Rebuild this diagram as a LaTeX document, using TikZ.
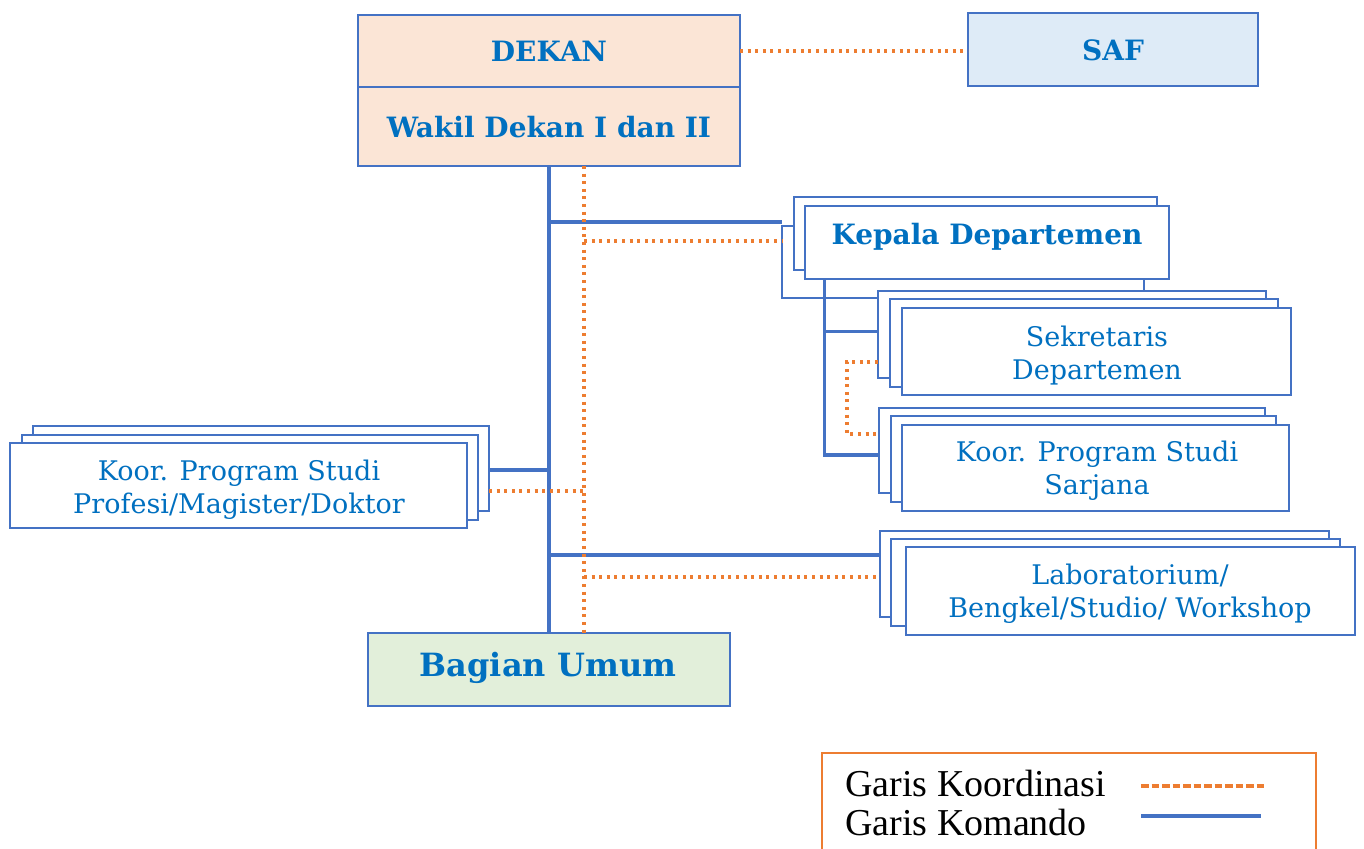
\documentclass[tikz,border=0pt]{standalone}
\usepackage{fontspec}
\setmainfont{DejaVu Serif}
\newfontfamily\legfont{Liberation Serif}
\definecolor{bl}{HTML}{4472C4}
\definecolor{tx}{HTML}{0070C0}
\definecolor{og}{HTML}{ED7D31}
\definecolor{peach}{HTML}{FBE5D6}
\definecolor{skyb}{HTML}{DEEBF7}
\definecolor{mint}{HTML}{E2EFDA}
\newcommand\bx[6][]{\node[box,#1,minimum width={#5-#3},minimum height={#6-#4}] (#2) at ({(#3+#5)/2},{(#4+#6)/2}) {};}
\tikzset{
  box/.style={draw=bl, line width=2.8pt, fill=white, inner sep=0pt, outer sep=0pt},
  cmd/.style={draw=bl, line width=3.5pt},
  koord/.style={draw=og, line width=3.5pt, dash pattern=on 3pt off 4.6pt},
  lbl/.style={text=tx, font=\fontsize{27}{33}\selectfont, align=center, inner sep=0pt},
  blbl/.style={text=tx, font=\bfseries\fontsize{28}{34}\selectfont, align=center, inner sep=0pt},
}
\begin{document}
\begin{tikzpicture}[x=1pt,y=-1pt]
\useasboundingbox (0,0) rectangle (1364,848);
% named levels
\coordinate (trunk) at (549,0);
\coordinate (otrunk) at (584,0);
\coordinate (sub) at (824.5,0);
\coordinate (obend) at (847,0);
\coordinate (yKb) at (0,222);
\coordinate (yKo) at (0,241);
\coordinate (ySb) at (0,331.5);
\coordinate (ySo) at (0,362);
\coordinate (yQo) at (0,434);
\coordinate (yQb) at (0,455);
\coordinate (yLb) at (0,470);
\coordinate (yLo) at (0,491);
\coordinate (yBb) at (0,555);
\coordinate (yBo) at (0,577);
\coordinate (kc) at (782,222);
% left Koor stack
\bx{lk3}{33}{426}{489}{511}
\bx{lk2}{22}{435}{478}{520}
\bx{lk1}{10}{443}{467}{528}
% Kepala stack
\bx{kep3}{782}{226}{1144}{298}
\bx{kep2}{794}{197}{1157}{270}
\bx{kep1}{805}{206}{1169}{279}
% Sekretaris stack
\bx{sek3}{878}{291}{1266}{378}
\bx{sek2}{890}{299}{1278}{387}
\bx{sek1}{902}{308}{1291}{395}
% Koor Sarjana stack
\bx{ks3}{879}{408}{1265}{493}
\bx{ks2}{891}{416}{1276}{502}
\bx{ks1}{902}{425}{1289}{511}
% Lab stack
\bx{lab3}{880}{531}{1329}{617}
\bx{lab2}{891}{539}{1340}{626}
\bx{lab1}{906}{547}{1355}{635}
% top and bottom boxes
\bx[fill=peach]{dekan}{358}{15}{740}{87}
\bx[fill=peach]{wakil}{358}{87}{740}{166}
\bx[fill=skyb]{saf}{968}{13}{1258}{86}
\bx[fill=mint]{umum}{368}{633}{730}{706}
% texts
\node[blbl] (tdekan) at (549,51) {DEKAN};
\node[blbl] (twakil) at (549,127) {Wakil Dekan I dan II};
\node[blbl] (tsaf) at (1113,50) {SAF};
\node[blbl] (tkep) at (987,237) {Kepala Departemen};
\node[blbl, font=\bfseries\fontsize{32}{38}\selectfont] (tumum) at (548,668) {Bagian Umum};
\node[lbl] (tsek) at (1097,356) {Sekretaris\\Departemen};
\node[lbl] (tks) at (1097,471) {Koor. Program Studi\\Sarjana};
\node[lbl] (tlab) at (1130,594) {Laboratorium/\\Bengkel/Studio/ Workshop};
\node[lbl] (tlk) at (239,489.5) {Koor. Program Studi\\Profesi/Magister/Doktor};
% command lines
\draw[cmd] (wakil.south -| trunk) -- (umum.north -| trunk);
\draw[cmd] (trunk |- yKb) -- (kc);
\draw[cmd] (kep1.south -| sub) -- (sub |- yQb) -- (ks3.west |- yQb);
\draw[cmd] (sub |- ySb) -- (sek3.west |- ySb);
\draw[cmd] (lk3.east |- yLb) -- (trunk |- yLb);
\draw[cmd] (trunk |- yBb) -- (lab3.west |- yBb);
% coordination lines
\draw[koord] (dekan.east) -- (saf.west |- dekan.east);
\draw[koord] (wakil.south -| otrunk) -- (umum.north -| otrunk);
\draw[koord] (otrunk |- yKo) -- (kep3.west |- yKo);
\draw[koord] (sek3.west |- ySo) -- (obend |- ySo) -- (obend |- yQo) -- (ks3.west |- yQo);
\draw[koord] (lk3.east |- yLo) -- (otrunk |- yLo);
\draw[koord] (otrunk |- yBo) -- (lab3.west |- yBo);
% legend
\coordinate (lg1) at (822,860);
\coordinate (lg2) at (822,753);
\coordinate (lg3) at (1316,753);
\coordinate (lg4) at (1316,860);
\draw[og, line width=2.5pt] (lg1) -- (lg2) -- (lg3) -- (lg4);
\node[font=\legfont\fontsize{38}{42}\selectfont, anchor=west, inner sep=0pt] (lgk) at (845,783) {Garis Koordinasi};
\node[font=\legfont\fontsize{38}{42}\selectfont, anchor=west, inner sep=0pt] (lgm) at (845,822) {Garis Komando};
\coordinate (la1) at (1141,786);
\coordinate (la2) at (1266,786);
\coordinate (lb1) at (1141,816);
\coordinate (lb2) at (1261,816);
\draw[og, line width=3.5pt, dash pattern=on 7.5pt off 3pt] (la1) -- (la2);
\draw[bl, line width=4pt] (lb1) -- (lb2);
\end{tikzpicture}
\end{document}
